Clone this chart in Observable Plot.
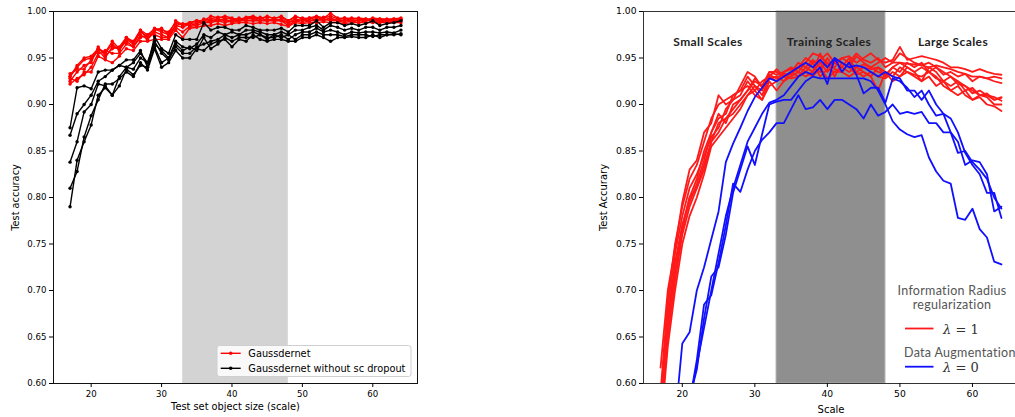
<!DOCTYPE html>
<html><head><meta charset="utf-8">
<script src="https://cdn.jsdelivr.net/npm/d3@7"></script>
<script src="https://cdn.jsdelivr.net/npm/@observablehq/plot@0.6"></script>
<style>
html,body{margin:0;padding:0;background:#fff;overflow:hidden;}
#wrap{position:relative;width:1015px;height:417px;overflow:hidden;}
.panel{position:absolute;top:0;}
.ann{position:absolute;white-space:nowrap;transform:translate(-50%,-50%);}
.region{font-family:Lato,"DejaVu Sans",sans-serif;font-weight:bold;font-size:12px;color:#222;letter-spacing:0.4px;}
.leg{font-family:Lato,"DejaVu Sans",sans-serif;font-size:12.5px;color:#555;letter-spacing:0.3px;}
.lam{font-family:"DejaVu Serif","Liberation Serif",serif;font-size:13px;color:#333;position:absolute;white-space:nowrap;transform:translateY(-50%);}
</style></head><body><div id="wrap"></div>
<script>
// ---------- data ----------
const scaleSteps = [17,18,19,20,21,22,23,24,25,26,27,28,29,30,31,32,33,34,35,36,37,38,39,40,
  41,42,43,44,45,46,47,48,49,50,51,52,53,54,55,56,57,58,59,60,61,62,63,64];
const xTicks = [20,30,40,50,60];
const yTicks = [0.60,0.65,0.70,0.75,0.80,0.85,0.90,0.95,1.00];
const trainingBand = [{start:33, end:48}];

// left panel (accuracy x1000): Gaussdernet
const gdRun1 = [930,940,948,950,960,955,965,958,970,965, 978,973,982,980,978,988,985,988,990,990, 992,994,993,992,992,993,994,993,994,993, 994,990,994,993,992,994,993,998,993,992, 993,992,991,993,992,992,992,993];
const gdRun2 = [925,935,942,945,962,952,960,962,972,968, 980,970,980,982,975,985,987,985,987,992, 990,992,990,990,993,990,991,994,990,992, 990,988,990,991,990,992,990,993,990,990, 991,990,992,990,991,990,990,991];
const gdRun3 = [922,928,932,940,955,958,955,955,965,962, 972,975,975,972,972,983,978,984,985,988, 990,990,988,990,990,990,990,990,990,990, 990,985,990,988,990,990,992,990,990,988, 990,988,990,990,989,990,989,990];
const gdRun4 = [933,938,938,948,958,950,962,960,968,962, 975,970,978,975,972,985,983,987,988,988, 988,990,992,988,990,992,993,990,992,990, 992,988,992,990,993,991,994,992,991,993, 990,991,990,992,990,991,992,992];
const gdRun5 = [928,925,935,935,952,948,945,952,960,958, 968,968,970,970,970,980,972,982,983,985, 985,987,985,987,988,988,987,988,987,988, 986,984,988,987,988,988,989,988,988,987, 988,988,988,988,988,988,988,988];
const gdRun6 = [930,942,950,952,960,956,968,960,972,966, 980,975,981,978,975,990,986,988,990,990, 995,993,995,993,990,994,995,992,995,992, 995,990,995,992,993,995,993,995,992,993, 992,993,992,991,992,991,991,992];
// left panel: Gaussdernet without sc dropout
const noDrop1 = [875,918,920,917,935,937,937,942,948,948, 958,940,973,960,955,975,970,970,970,988, 980,983,983,980,980,985,983,980,980,980, 982,978,985,985,985,990,983,988,988,985, 987,985,987,990,985,987,988,990];
const noDrop2 = [867,890,900,910,925,930,937,942,940,945, 955,945,965,958,950,968,962,960,965,975, 972,978,975,978,975,980,980,978,975,975, 978,975,980,980,983,985,980,985,983,980, 982,980,983,983,980,983,983,985];
const noDrop3 = [838,860,892,900,922,920,910,930,940,938, 950,945,968,955,948,962,955,955,962,965, 968,970,975,972,975,975,978,975,972,972, 975,970,975,978,978,982,978,980,978,975, 978,977,978,978,977,978,977,980];
const noDrop4 = [810,828,865,888,905,922,922,928,935,930, 945,937,960,940,945,958,950,950,960,958, 965,968,970,962,970,968,975,970,968,970, 970,968,968,972,972,975,972,968,972,972, 973,972,972,975,972,975,975,976];
const noDrop5 = [790,840,860,878,910,918,910,920,938,932, 942,940,962,945,950,965,958,962,958,972, 960,965,972,968,972,972,972,975,970,975, 972,975,970,975,975,978,975,975,975,973, 975,975,975,973,975,975,976,975];

// right panel: Information Radius regularization (lambda = 1)
const irRun1 = [617,700,745,795,830,840,870,880,910,900, 905,920,935,930,918,935,932,935,938,940, 945,955,952,945,940,950,952,945,950,955, 948,945,948,962,948,950,952,950,948,945, 940,940,938,935,938,935,933,932];
const irRun2 = [590,690,750,790,820,835,860,885,900,905, 910,915,930,920,915,930,938,930,935,945, 940,935,955,940,948,945,940,952,945,940, 945,950,945,945,944,943,942,940,942,940, 938,935,933,930,930,928,930,928];
const irRun3 = [570,670,730,770,800,820,850,870,890,880, 900,905,915,928,920,932,928,933,932,940, 935,945,930,938,935,940,935,940,943,940, 935,932,940,935,945,940,945,935,940,932, 935,930,933,925,930,928,925,923];
const irRun4 = [560,650,710,760,790,810,830,860,870,885, 890,900,910,915,905,925,915,925,930,935, 945,940,935,950,938,935,945,940,935,930, 915,935,930,940,935,932,930,935,928,925, 930,922,920,912,915,910,905,908];
const irRun5 = [580,680,740,780,810,825,845,865,875,895, 905,910,925,915,925,930,925,935,940,935, 930,935,945,935,945,940,950,935,940,938, 940,935,925,930,940,935,925,940,935,925, 920,925,915,918,910,910,908,904];
const irRun6 = [550,640,700,750,780,800,825,855,865,875, 885,895,910,920,910,928,930,925,935,930, 935,930,940,928,935,935,930,935,930,935, 930,928,935,930,935,930,925,930,920,925, 915,910,915,905,910,908,900,900];
const irRun7 = [580,670,720,770,795,815,840,870,885,890, 910,915,920,910,905,920,925,930,928,930, 940,948,940,945,930,945,940,932,935,930, 940,930,940,945,940,935,940,935,930,920, 915,920,910,905,908,900,898,893];
const irRun8 = [565,660,720,765,800,810,835,860,880,885, 895,905,915,925,920,935,935,930,935,940, 950,945,948,955,945,950,945,955,948,945, 950,940,945,955,950,945,942,945,940,935, 930,925,920,915,910,912,905,907];
// right panel: Data Augmentation (lambda = 0)
const daRun1 = [null,null,560,643,655,700,725,755,785,838, 858,875,893,908,918,928,925,930,935,940, 945,940,948,940,950,945,940,942,940,935, 930,935,930,928,915,915,905,915,900,890, 885,870,848,835,825,805,805,778];
const daRun2 = [null,null,null,null,580,625,685,695,730,770, 815,806,830,850,862,870,880,880,895,910, 895,897,905,895,905,905,900,895,885,900, 888,892,900,890,892,890,892,880,880,870, 870,848,850,838,830,820,800,788];
const daRun3 = [null,null,null,null,585,615,670,715,725,760, 805,830,855,835,868,900,903,905,905,915, 925,930,928,928,928,928,928,928,928,925, 915,900,882,873,868,865,867,843,828,818, 815,778,776,788,766,757,731,728];
const daRun4 = [null,null,null,null,580,620,660,700,740,780, 810,835,860,875,890,902,905,910,920,930, 935,932,940,922,950,935,945,932,912,918, 918,902,928,925,918,908,915,900,888,890, 870,860,835,840,838,825,785,790];

const leftRed = [gdRun1,gdRun2,gdRun3,gdRun4,gdRun5,gdRun6];
const leftBlack = [noDrop1,noDrop2,noDrop3,noDrop4,noDrop5];
const rightRed = [irRun1,irRun2,irRun3,irRun4,irRun5,irRun6,irRun7,irRun8];
const rightBlue = [daRun1,daRun2,daRun3,daRun4];

function toRows(seriesList, key) {
  const rows = [];
  seriesList.forEach((vals, i) => vals.forEach((v, j) => {
    if (v != null) rows.push({x: scaleSteps[j], y: v / 1000, run: key + i});
  }));
  return rows;
}
const redL = toRows(leftRed, "r"), blackL = toRows(leftBlack, "k");
const redR = toRows(rightRed, "r"), blueR = toRows(rightBlue, "b");

const wrap = document.getElementById("wrap");
const fmt = d3.format(".2f");

// ---------- left panel ----------
const left = Plot.plot({
  width: 440, height: 417,
  marginLeft: 53, marginRight: 23, marginTop: 11, marginBottom: 34,
  style: {fontFamily: "'DejaVu Sans', sans-serif", fontSize: "8.6px", color: "#000", background: "transparent"},
  x: {domain: [14.65, 66.35]},
  y: {domain: [0.6, 1.0]},
  marks: [
    Plot.rect(trainingBand, {x1: "start", x2: "end", fill: "#d3d3d3"}),
    Plot.line(redL, {x: "x", y: "y", z: "run", stroke: "#ff0000", strokeWidth: 1.4, strokeLinejoin: "round"}),
    Plot.dot(redL, {x: "x", y: "y", r: 1.7, fill: "#ff0000", stroke: "none"}),
    Plot.line(blackL, {x: "x", y: "y", z: "run", stroke: "#000", strokeWidth: 1.4, strokeLinejoin: "round"}),
    Plot.dot(blackL, {x: "x", y: "y", r: 1.7, fill: "#000", stroke: "none"}),
    Plot.frame({stroke: "#111", strokeWidth: 1}),
    Plot.axisX({ticks: xTicks, tickSize: 4, tickPadding: 3, label: null}),
    Plot.axisY({ticks: yTicks, tickFormat: fmt, tickSize: 4, tickPadding: 3, label: null}),
    Plot.axisX({ticks: [], label: "Test set object size (scale)", labelAnchor: "center", labelArrow: "none", labelOffset: 26, fontSize: "9.8px"}),
    Plot.axisY({ticks: [], label: "Test accuracy", labelAnchor: "center", labelArrow: "none", labelOffset: 41, fontSize: "9.8px"})
  ]
});
left.classList.add("panel");
left.style.left = "0px";
wrap.appendChild(left);

// ---------- right panel ----------
const right = Plot.plot({
  width: 430, height: 417,
  marginLeft: 53, marginRight: 2, marginTop: 11, marginBottom: 34,
  style: {fontFamily: "'DejaVu Sans', sans-serif", fontSize: "9.2px", color: "#000", background: "transparent"},
  x: {domain: [14.65, 66.35]},
  y: {domain: [0.6, 1.0]},
  marks: [
    Plot.rect(trainingBand, {x1: "start", x2: "end", fill: "#8f8f8f", stroke: "#a8a8a8", strokeWidth: 1}),
    Plot.line(redR, {x: "x", y: "y", z: "run", stroke: "#ff1a1a", strokeWidth: 1.8, strokeLinejoin: "round", clip: true}),
    Plot.line(blueR, {x: "x", y: "y", z: "run", stroke: "#1010ff", strokeWidth: 1.8, strokeLinejoin: "round", clip: true}),
    Plot.frame({stroke: "#333", strokeWidth: 1}),
    Plot.axisX({ticks: xTicks, tickSize: 4, tickPadding: 3, label: null}),
    Plot.axisY({ticks: yTicks, tickFormat: fmt, tickSize: 4, tickPadding: 3, label: null}),
    Plot.axisX({ticks: [], label: "Scale", labelAnchor: "center", labelArrow: "none", labelOffset: 29, fontSize: "10px"}),
    Plot.axisY({ticks: [], label: "Test Accurary", labelAnchor: "center", labelArrow: "none", labelOffset: 44, fontSize: "10px"})
  ]
});
right.classList.add("panel");
right.style.left = "590px";
wrap.appendChild(right);

// ---------- left legend ----------
const legendItems = [{label: "Gaussdernet", color: "#ff0000"}, {label: "Gaussdernet without sc dropout", color: "#000"}];
const lg = d3.create("svg").attr("width", 196).attr("height", 33)
  .style("position", "absolute").style("left", "216px").style("top", "344px");
lg.append("rect").attr("x", 1).attr("y", 1.5).attr("width", 194).attr("height", 31).attr("rx", 2.5)
  .attr("fill", "#fff").attr("fill-opacity", 0.85).attr("stroke", "#cfcfcf");
legendItems.forEach((d, i) => {
  const cy = 9.3 + i * 15;
  lg.append("line").attr("x1", 4.7).attr("x2", 24.7).attr("y1", cy).attr("y2", cy).attr("stroke", d.color).attr("stroke-width", 1.4);
  lg.append("circle").attr("cx", 14.7).attr("cy", cy).attr("r", 1.8).attr("fill", d.color);
  lg.append("text").attr("x", 32.3).attr("y", cy).attr("dy", "0.36em")
    .attr("font-family", "'DejaVu Sans', sans-serif").attr("font-size", 9.8).attr("fill", "#000").text(d.label);
});
wrap.appendChild(lg.node());

// ---------- right annotations ----------
const regionNames = [{text: "Small Scales", left: 708}, {text: "Training Scales", left: 829}, {text: "Large Scales", left: 953}];
regionNames.forEach(r => {
  const el = document.createElement("div");
  el.className = "ann region"; el.textContent = r.text;
  el.style.left = r.left + "px"; el.style.top = "41px";
  wrap.appendChild(el);
});
const legLines = [{t: "Information Radius", x: 952, y: 290}, {t: "regularization", x: 952, y: 303.5}];
legLines.forEach(d => {
  const el = document.createElement("div");
  el.className = "ann leg"; el.textContent = d.t;
  el.style.left = d.x + "px"; el.style.top = d.y + "px";
  wrap.appendChild(el);
});
const da = document.createElement("div");
da.className = "leg"; da.textContent = "Data Augmentation";
da.style.position = "absolute"; da.style.left = "904px"; da.style.top = "345px"; da.style.whiteSpace = "nowrap";
wrap.appendChild(da);

const lamItems = [{color: "#ff1a1a", val: "1", y: 328.5}, {color: "#1010ff", val: "0", y: 366.7}];
const ls = d3.create("svg").attr("width", 40).attr("height", 417)
  .style("position", "absolute").style("left", "900px").style("top", "0px");
lamItems.forEach(d => {
  ls.append("line").attr("x1", 5).attr("x2", 33.5).attr("y1", d.y).attr("y2", d.y).attr("stroke", d.color).attr("stroke-width", 1.8);
});
wrap.appendChild(ls.node());
lamItems.forEach(d => {
  const el = document.createElement("div");
  el.className = "lam";
  el.innerHTML = "<i>λ</i> = " + d.val;
  el.style.left = "943px"; el.style.top = d.y + "px";
  wrap.appendChild(el);
});
</script>
</body></html>
